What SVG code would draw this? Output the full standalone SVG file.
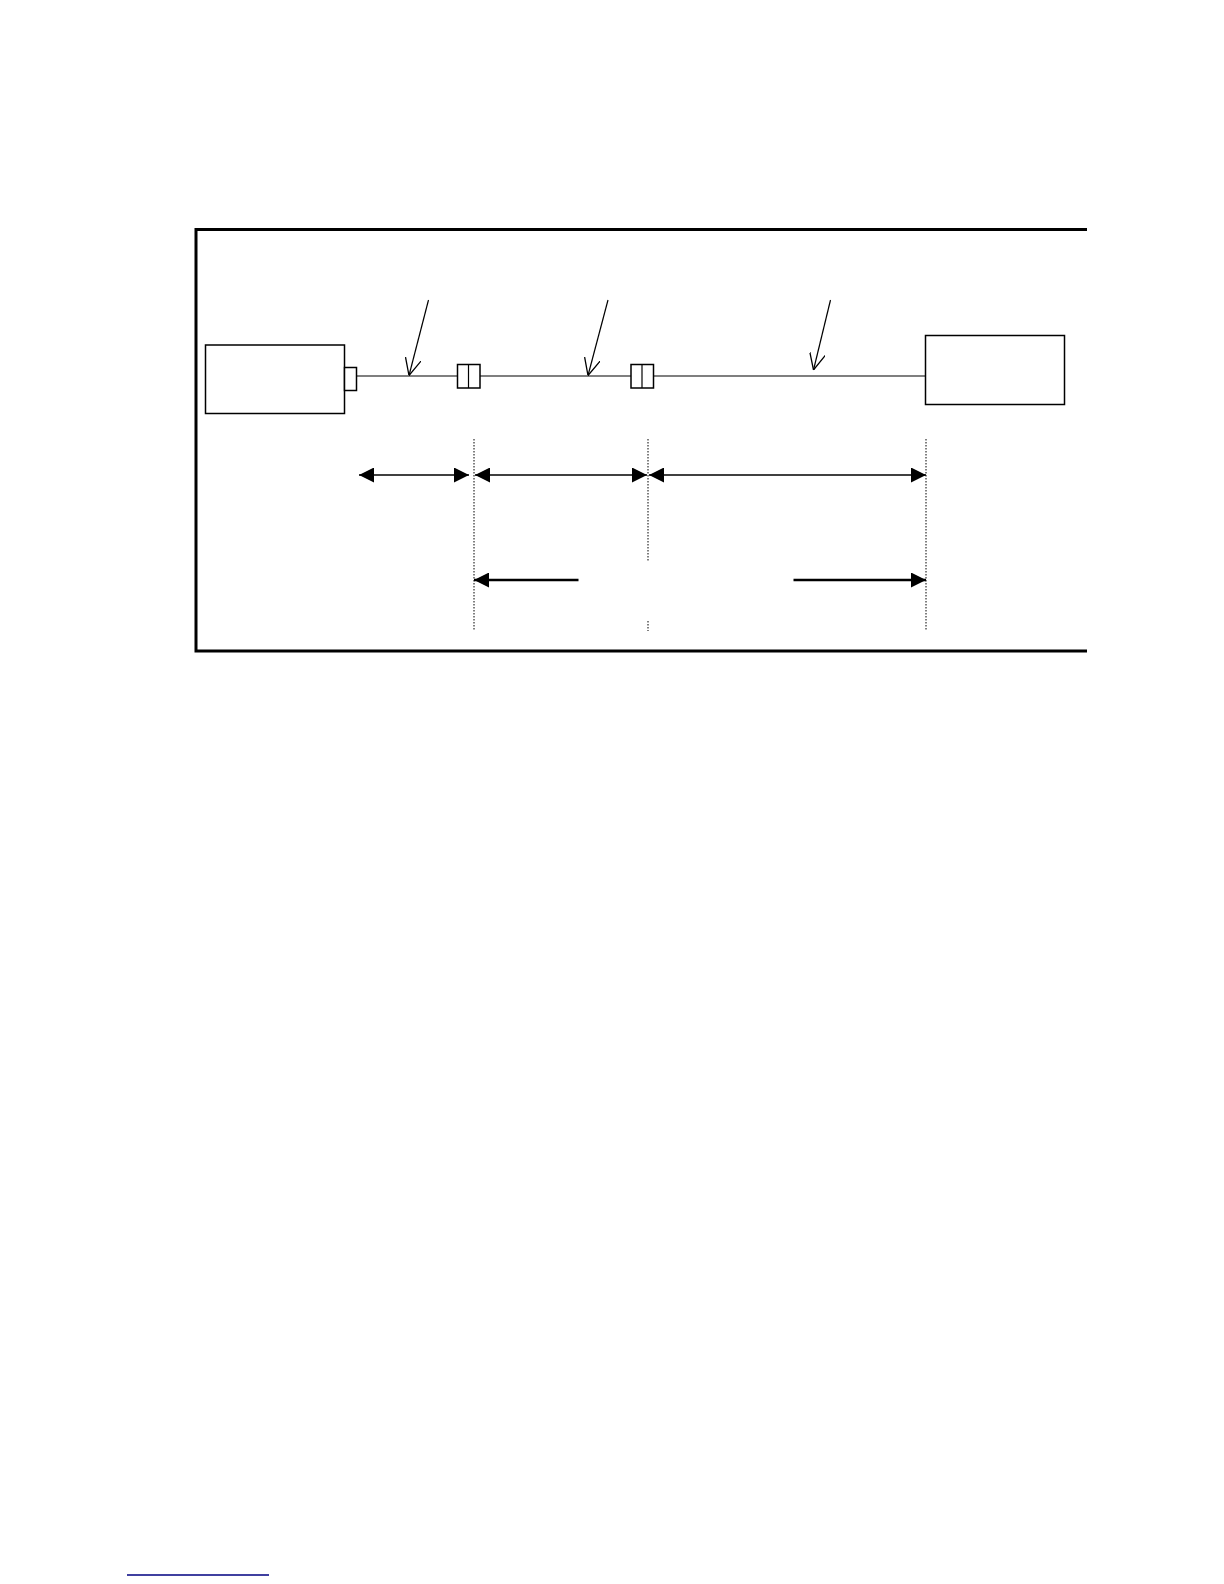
<svg xmlns="http://www.w3.org/2000/svg" width="1224" height="1584" viewBox="0 0 1224 1584">
<style>
.box{fill:#fff;stroke:#000;stroke-width:1.5}
.thin{stroke:#000;stroke-width:1.2;fill:none}
.dot{stroke:#000;stroke-width:1;stroke-dasharray:1.5 1.5;fill:none}
.dim{stroke:#000;stroke-width:1.5;fill:none}
.dim2{stroke:#000;stroke-width:2.6;fill:none}
</style>
<defs>
<marker id="tri" viewBox="0 0 15 15" refX="15" refY="7.5" markerWidth="15" markerHeight="15" markerUnits="userSpaceOnUse" orient="auto-start-reverse">
<path d="M0,0 L15,7.5 L0,15 Z" fill="#000"/>
</marker>
<marker id="vee" viewBox="0 0 17 16" refX="17" refY="8" markerWidth="17" markerHeight="16" markerUnits="userSpaceOnUse" orient="auto">
<path d="M0,0 L17,8 L0,16" fill="none" stroke="#000" stroke-width="1.3"/>
</marker>
</defs>
<rect width="1224" height="1584" fill="#fff"/>
<g id="frame">
<path d="M1087,229.5 L196,229.5 L196,651 L1087,651" fill="none" stroke="#000" stroke-width="3"/>
</g>
<g id="left-unit">
<rect class="box" x="205.5" y="345" width="139" height="68.5"/>
<rect class="box" x="344.5" y="367.5" width="12" height="23"/>
</g>
<g id="coupler-1">
<rect class="box" x="457.5" y="364.5" width="22.5" height="23.5"/>
<line class="thin" x1="468.5" y1="364.5" x2="468.5" y2="388"/>
</g>
<g id="coupler-2">
<rect class="box" x="631" y="364.5" width="22.5" height="23.5"/>
<line class="thin" x1="642" y1="364.5" x2="642" y2="388"/>
</g>
<g id="right-unit">
<rect class="box" x="925.5" y="335.5" width="139" height="69"/>
</g>
<g id="connectors">
<line class="thin" x1="356.5" y1="376" x2="457.5" y2="376"/>
<line class="thin" x1="480" y1="376" x2="631" y2="376"/>
<line class="thin" x1="653.5" y1="376" x2="925.5" y2="376"/>
<line class="thin" x1="428.5" y1="300" x2="409" y2="375.5" marker-end="url(#vee)"/>
<line class="thin" x1="608" y1="300" x2="588" y2="375.5" marker-end="url(#vee)"/>
<line class="thin" x1="830.5" y1="300" x2="813.5" y2="370" marker-end="url(#vee)"/>
<line class="dot" x1="474" y1="439" x2="474" y2="631"/>
<line class="dot" x1="648" y1="439" x2="648" y2="562"/>
<line class="dot" x1="648" y1="621" x2="648" y2="631"/>
<line class="dot" x1="926" y1="439" x2="926" y2="631"/>
<line class="dim" x1="359" y1="475" x2="469" y2="475" marker-start="url(#tri)" marker-end="url(#tri)"/>
<line class="dim" x1="475" y1="475" x2="647" y2="475" marker-start="url(#tri)" marker-end="url(#tri)"/>
<line class="dim" x1="649" y1="475" x2="926" y2="475" marker-start="url(#tri)" marker-end="url(#tri)"/>
<line class="dim2" x1="578.5" y1="580" x2="474" y2="580" marker-end="url(#tri)"/>
<line class="dim2" x1="793.5" y1="580" x2="926" y2="580" marker-end="url(#tri)"/>
</g>
<line x1="127" y1="1575" x2="269" y2="1575" stroke="#000080" stroke-width="1.5"/>
</svg>
